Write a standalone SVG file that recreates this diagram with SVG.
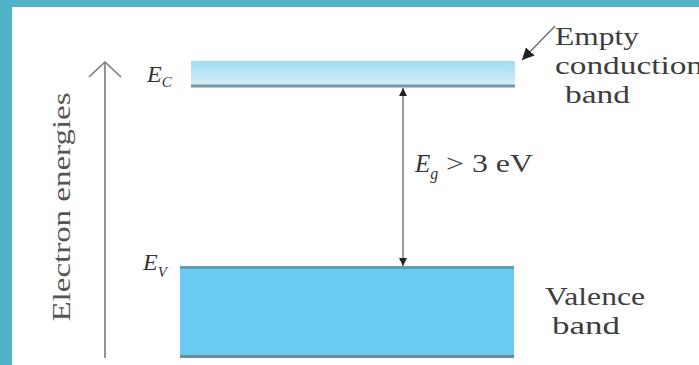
<svg xmlns="http://www.w3.org/2000/svg" width="699" height="365" viewBox="0 0 699 365">
<style>
.lbl{font-family:"Liberation Serif","Times New Roman",serif;font-size:26px;fill:#3d3d3d}
.sym{font-family:"Liberation Serif","Times New Roman",serif;font-style:italic;fill:#333}
.ax{stroke:#7a7a7a;stroke-width:1.6;fill:none}
.conn{stroke:#6e6e6e;stroke-width:1.4;fill:none}
</style>
<defs>
<linearGradient id="cb" x1="0" y1="0" x2="0" y2="1">
<stop offset="0" stop-color="#a2dcf1"/>
<stop offset="1" stop-color="#d4eff9"/>
</linearGradient>
<marker id="ah" viewBox="0 0 10 10" refX="10" refY="5" markerWidth="8" markerHeight="8" markerUnits="userSpaceOnUse" orient="auto-start-reverse">
<path d="M0,0 L10,5 L0,10 Z" fill="#222"/>
</marker>
<marker id="ah2" viewBox="0 0 10 10" refX="10" refY="5" markerWidth="12" markerHeight="12" markerUnits="userSpaceOnUse" orient="auto">
<path d="M0,0 L10,5 L0,10 Z" fill="#222"/>
</marker>
</defs>
<rect x="0" y="0" width="699" height="365" fill="#50b3c8"/>
<rect x="12" y="7" width="687" height="358" fill="#ffffff"/>

<g id="axis">
<line class="ax" x1="105" y1="62" x2="105" y2="358"/>
<polyline class="ax" points="89,77 105,62 121,77"/>
<text class="lbl" transform="translate(70,207) rotate(-90)" text-anchor="middle" style="font-size:25px;fill:#555" textLength="229" lengthAdjust="spacingAndGlyphs">Electron energies</text>
</g>

<g id="conduction-band">
<rect x="191" y="61" width="324" height="24" fill="url(#cb)"/>
<rect x="191" y="84.5" width="324" height="3" fill="#7896a4"/>
<text class="sym" x="147" y="82" font-size="24">E<tspan font-size="15" dy="5">C</tspan></text>
</g>

<g id="valence-band">
<rect x="180" y="267" width="334" height="90" fill="#6acaf2"/>
<rect x="180" y="266" width="334" height="3" fill="#5e9fb4"/>
<rect x="180" y="355" width="334" height="3" fill="#6d8d9b"/>
<text class="sym" x="143" y="270" font-size="24">E<tspan font-size="15" dy="7">V</tspan></text>
</g>

<g id="label-empty">
<text class="lbl" x="555" y="45" textLength="84" lengthAdjust="spacingAndGlyphs">Empty</text>
<text class="lbl" x="555" y="74" textLength="148" lengthAdjust="spacingAndGlyphs">conduction</text>
<text class="lbl" x="565" y="103" textLength="65" lengthAdjust="spacingAndGlyphs">band</text>
</g>

<g id="label-valence">
<text class="lbl" x="545" y="305" textLength="100" lengthAdjust="spacingAndGlyphs">Valence</text>
<text class="lbl" x="552" y="334" textLength="68" lengthAdjust="spacingAndGlyphs">band</text>
</g>

<g id="label-gap">
<text class="sym" x="415" y="172" font-size="25">E<tspan font-size="16" dy="7">g</tspan></text>
<text class="lbl" x="446" y="172" font-size="25" textLength="87" lengthAdjust="spacingAndGlyphs">&gt; 3 eV</text>
</g>

<g id="connectors">
<line class="conn" x1="403" y1="88" x2="403" y2="266" marker-start="url(#ah)" marker-end="url(#ah)"/>
<line class="conn" x1="555" y1="26" x2="522" y2="60" marker-end="url(#ah2)"/>
</g>
</svg>
